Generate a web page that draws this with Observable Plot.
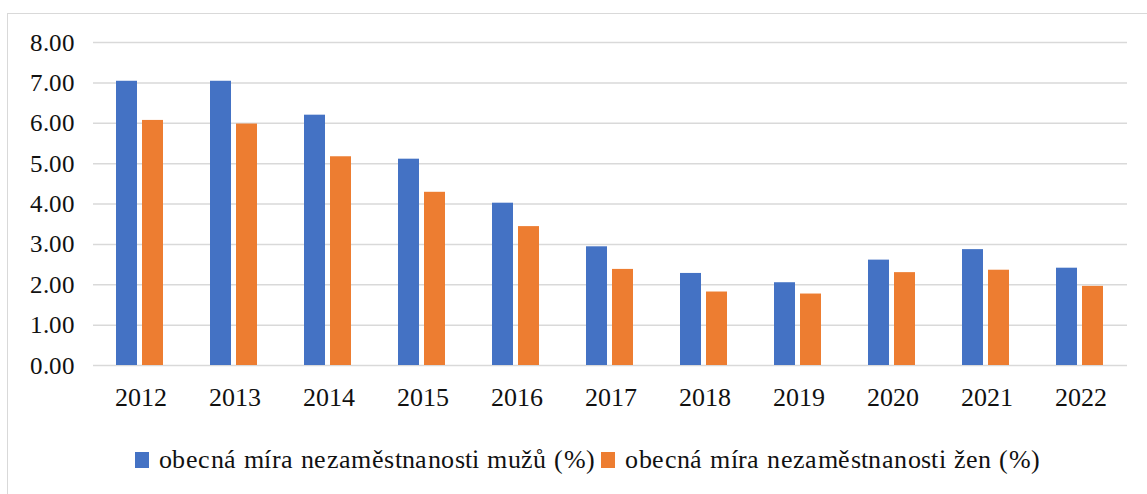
<!DOCTYPE html>
<html>
<head>
<meta charset="utf-8">
<script src="https://cdn.jsdelivr.net/npm/d3@7"></script>
<script src="https://cdn.jsdelivr.net/npm/@observablehq/plot@0.6"></script>
<style>
  @font-face {
    font-family: "ChartSerif";
    src: local("Liberation Serif"), local("LiberationSerif"), local("LiberationSerif-Regular"),
         local("Tinos"), local("Times New Roman"), local("DejaVu Serif"), local("DejaVuSerif");
  }
  html, body { margin: 0; padding: 0; background: #fff; overflow: hidden; }
  #wrap { position: relative; width: 1147px; height: 494px; font-family: ChartSerif, "Liberation Serif", "DejaVu Serif", serif; }
  #frame { position: absolute; left: 7px; top: 13px; width: 1200px; height: 600px; border: 1.5px solid #d9d9d9; box-sizing: border-box; pointer-events: none; }
  #chart { position: absolute; left: 0; top: 0; }
  #legend { position: absolute; top: 445px; left: 135px; display: flex; align-items: center; font-size: 26px; letter-spacing: 0.4px; color: #111; white-space: nowrap; }
  .sw { display: inline-block; width: 14px; height: 16px; margin-right: 10px; }
  .item { display: flex; align-items: center; margin-right: 6px; }
</style>
</head>
<body>
<div id="wrap">
  <div id="frame"></div>
  <div id="chart"></div>
  <div id="legend"></div>
</div>
<script>
const years = ["2012","2013","2014","2015","2016","2017","2018","2019","2020","2021","2022"];
const seriesNames = ["obecná míra nezaměstnanosti mužů (%)", "obecná míra nezaměstnanosti žen (%)"];
const men   = [7.04, 7.04, 6.20, 5.11, 4.02, 2.94, 2.28, 2.05, 2.61, 2.87, 2.41];
const women = [6.07, 5.98, 5.17, 4.29, 3.44, 2.38, 1.82, 1.77, 2.30, 2.36, 1.96];
const colors = ["#4472C4", "#ED7D31"];
const yTicks = [0, 1, 2, 3, 4, 5, 6, 7, 8];

const rows = [];
years.forEach((y, i) => {
  rows.push({year: y, series: seriesNames[0], value: men[i]});
  rows.push({year: y, series: seriesNames[1], value: women[i]});
});

const chart = Plot.plot({
  width: 1147,
  height: 430,
  marginTop: 42,
  marginBottom: 65,
  marginLeft: 92,
  marginRight: 20,
  style: { fontFamily: "ChartSerif, 'Liberation Serif', 'DejaVu Serif', serif", background: "transparent", color: "#111" },
  fx: { domain: years, padding: 0, label: null },
  x: { domain: seriesNames, paddingInner: 0.19, paddingOuter: 0.9, axis: null },
  y: { domain: [0, 8], label: null },
  color: { domain: seriesNames, range: colors },
  marks: [
    Plot.gridY(yTicks, { stroke: "#d9d9d9", strokeOpacity: 1, strokeWidth: 1.5 }),
    Plot.barY(rows, { fx: "year", x: "series", y: "value", fill: "series" }),
    Plot.axisY(yTicks, { tickSize: 0, tickPadding: 19, tickFormat: d3.format(".2f"), fontSize: 25, label: null }),
    Plot.axisFx({ anchor: "bottom", tickSize: 0, tickPadding: 22, fontSize: 26, label: null })
  ]
});
document.getElementById("chart").appendChild(chart);

const legend = document.getElementById("legend");
seriesNames.forEach((name, i) => {
  const item = document.createElement("span");
  item.className = "item";
  const sw = document.createElement("span");
  sw.className = "sw";
  sw.style.background = colors[i];
  item.appendChild(sw);
  item.appendChild(document.createTextNode(name));
  legend.appendChild(item);
});
</script>
</body>
</html>
